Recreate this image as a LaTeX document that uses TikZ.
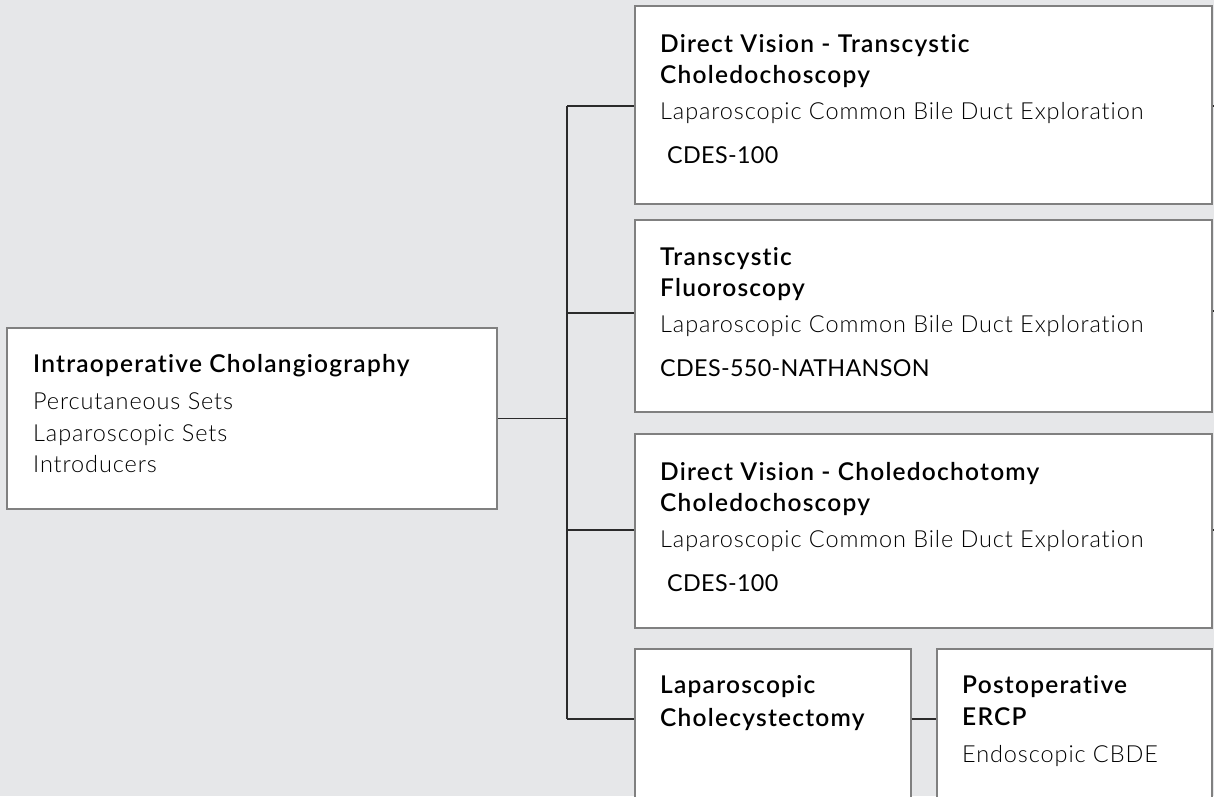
\documentclass[tikz,border=0pt]{standalone}
\usepackage{fontspec}
\setmainfont{Lato}[LetterSpace=1.5, Ligatures=NoCommon]
\newfontfamily\headfont{Lato Semibold}[LetterSpace=5, Ligatures=NoCommon]
\newfontfamily\lightfont{Lato Light}[LetterSpace=3.8, Ligatures=NoCommon]
\usetikzlibrary{positioning}

\definecolor{bggray}{HTML}{E6E7E9}
\definecolor{boxline}{HTML}{808080}
\definecolor{wireline}{HTML}{2B2B2B}

\begin{document}
\begin{tikzpicture}[x=1pt, y=-1pt,
    box/.style={draw=boxline, line width=1.4pt, fill=white, rectangle, inner sep=0pt},
    head/.style={anchor=base west, inner sep=0pt, font=\fontsize{24.5}{28}\selectfont\headfont},
    sub/.style={anchor=base west, inner sep=0pt, text=black, font=\fontsize{23.5}{28}\selectfont\lightfont},
    code/.style={anchor=base west, inner sep=0pt, font=\fontsize{23.3}{28}\selectfont},
    wire/.style={draw=wireline, line width=1.2pt}]
            \fill[bggray] (0,0) rectangle (1214,796);
            \clip (0,0) rectangle (1214,796);

            % Cajas
            \node[box, minimum width=490pt, minimum height=181pt] (ioc) at (252,418.5) {};
            \node[box, minimum width=577pt, minimum height=198pt] (dvt) at (923.5,105) {};
            \node[box, minimum width=577pt, minimum height=192pt] (tfl) at (923.5,316) {};
            \node[box, minimum width=577pt, minimum height=194pt] (dvc) at (923.5,531) {};
            \node[box, minimum width=276pt, minimum height=200pt] (lch) at (773,749) {};
            \node[box, minimum width=275pt, minimum height=200pt] (ercp) at (1074.5,749) {};

            % Textos
            \node[head] (ioc1) at (33,372) {Intraoperative Cholangiography};
            \node[sub] (ioc2) at (33,409) {Percutaneous Sets};
            \node[sub] (ioc3) at (33,441) {Laparoscopic Sets};
            \node[sub] (ioc4) at (33,472) {Introducers};

            \node[head] (dvt1) at (660,52) {Direct Vision - Transcystic};
            \node[head] (dvt2) at (660,83) {Choledochoscopy};
            \node[sub] (dvt3) at (660,119) {Laparoscopic Common Bile Duct Exploration};
            \node[code] (dvt4) at (667,163) {CDES-100};

            \node[head] (tfl1) at (660,265) {Transcystic};
            \node[head] (tfl2) at (660,296) {Fluoroscopy};
            \node[sub] (tfl3) at (660,332) {Laparoscopic Common Bile Duct Exploration};
            \node[code] (tfl4) at (660,376) {CDES-550-NATHANSON};

            \node[head] (dvc1) at (660,480) {Direct Vision - Choledochotomy};
            \node[head] (dvc2) at (660,511) {Choledochoscopy};
            \node[sub] (dvc3) at (660,547) {Laparoscopic Common Bile Duct Exploration};
            \node[code] (dvc4) at (667,591) {CDES-100};

            \node[head] (lch1) at (660,693) {Laparoscopic};
            \node[head] (lch2) at (660,726) {Cholecystectomy};

            \node[head] (ercp1) at (962,693) {Postoperative};
            \node[head] (ercp2) at (962,725) {ERCP};
            \node[sub] (ercp3) at (962,762) {Endoscopic CBDE};

            % Puntos del tronco
            \coordinate (top) at (567,106);
            \coordinate (c2) at (567,313);
            \coordinate (mid) at (567,418.5);
            \coordinate (c3) at (567,530);
            \coordinate (bot) at (567,719);
            \coordinate (e1) at (1214,106);
            \coordinate (e2) at (1214,311);
            \coordinate (e3) at (1214,530);

            % Conexiones
            \draw[wire] (top) -- (bot);
            \draw[wire] (ioc.east) -- (mid);
            \draw[wire] (top) -- (dvt.west |- top);
            \draw[wire] (c2) -- (tfl.west |- c2);
            \draw[wire] (c3) -- (dvc.west |- c3);
            \draw[wire] (bot) -- (lch.west |- bot);
            \draw[wire] (lch.east |- bot) -- (ercp.west |- bot);
            \draw[wire] (dvt.east |- e1) -- (e1);
            \draw[wire] (tfl.east |- e2) -- (e2);
            \draw[wire] (dvc.east |- e3) -- (e3);
\end{tikzpicture}
\end{document}
